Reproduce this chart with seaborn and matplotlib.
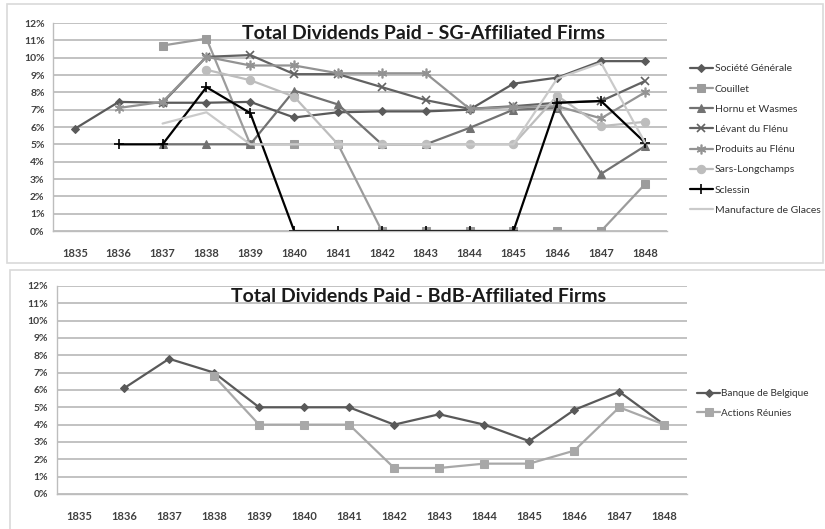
import numpy as np
import pandas as pd
import matplotlib
matplotlib.use('Agg')
import matplotlib.pyplot as plt
import seaborn as sns
from matplotlib.patches import Rectangle
from matplotlib.ticker import FixedLocator, FuncFormatter

nan = np.nan

# Anos (categorias)
years = [str(y) for y in range(1835, 1849)]

# Dividendos (%) - SG
societe = [5.9, 7.45, 7.4, 7.4, 7.45, 6.55, 6.85, 6.9, 6.9, 7.0, 8.5, 8.85, 9.8, 9.8]
couillet = [nan, nan, 10.7, 11.1, 5.0, 5.0, 5.0, 0, 0, 0, 0, 0, 0, 2.7]
hornu = [nan, nan, 5.0, 5.0, 5.0, 8.1, 7.3, 5.0, 5.0, 5.95, 7.0, 7.1, 3.3, 4.9]
levant = [nan, nan, 7.4, 10.05, 10.15, 9.05, 9.05, 8.3, 7.55, 7.05, 7.2, 7.4, 7.5, 8.65]
produits = [nan, 7.1, 7.45, 10.05, 9.55, 9.55, 9.1, 9.1, 9.1, 7.05, 7.15, 7.2, 6.5, 8.0]
sars = [nan, nan, nan, 9.3, 8.7, 7.75, 5.0, 5.0, 5.0, 5.0, 5.0, 7.8, 6.05, 6.3]
sclessin = [nan, 5.0, 5.0, 8.3, 6.8, 0, 0, 0, 0, 0, 0, 7.4, 7.5, 5.1]
manufacture = [nan, nan, 6.2, 6.85, 5.0, 5.0, 5.0, 5.0, 5.0, 5.0, 5.0, 8.8, 9.7, 5.1]

# Dividendos (%) - BdB
bdb = [nan, 6.1, 7.8, 7.0, 5.0, 5.0, 5.0, 4.0, 4.6, 4.0, 3.05, 4.85, 5.9, 4.0]
actions = [nan, nan, nan, 6.8, 4.0, 4.0, 4.0, 1.5, 1.5, 1.75, 1.75, 2.5, 5.0, 4.0]

sns.set_style('white')
plt.rcParams['font.family'] = ['Lato', 'DejaVu Sans']

asterisk = (6, 2, 0)

sg_series = [
    ('Société Générale', societe, '#5a5a5a', 'D', 4),
    ('Couillet', couillet, '#9c9c9c', 's', 6),
    ('Hornu et Wasmes', hornu, '#727272', '^', 5.5),
    ('Lévant du Flénu', levant, '#626262', 'x', 6),
    ('Produits au Flénu', produits, '#939393', asterisk, 7),
    ('Sars-Longchamps', sars, '#bdbdbd', 'o', 6),
    ('Sclessin', sclessin, '#000000', '+', 7),
    ('Manufacture de Glaces', manufacture, '#cacaca', None, 0),
]
bdb_series = [
    ('Banque de Belgique', bdb, '#595959', 'D', 4),
    ('Actions Réunies', actions, '#a8a8a8', 's', 6),
]

fig = plt.figure(figsize=(8.25, 5.29), dpi=100)

# Molduras dos dois paineis
fig.add_artist(Rectangle((0.008, 0.503), 0.99, 0.49, transform=fig.transFigure,
                         fill=False, edgecolor='#d9d9d9', lw=1.2))
fig.add_artist(Rectangle((0.012, -0.01), 0.99, 0.5, transform=fig.transFigure,
                         fill=False, edgecolor='#d9d9d9', lw=1.2))

ax1 = fig.add_axes([0.0642, 0.5633, 0.7442, 0.3932])
ax2 = fig.add_axes([0.0685, 0.0662, 0.7640, 0.3932])


def draw(ax, series, title, title_x, leg_y, leg_x, leg_fs):
    x = np.arange(len(years))
    for name, vals, col, mk, ms in series:
        df = pd.DataFrame({'x': x, 'y': vals}).dropna()
        kw = dict(marker=mk, markersize=ms, markeredgecolor=col, markerfacecolor=col)
        if mk in ('x', '+', asterisk):
            kw['markeredgewidth'] = 1.2
        if mk is None:
            kw = {}
        sns.lineplot(data=df, x='x', y='y', ax=ax, color=col, lw=1.6,
                     label=name, **kw)
    ax.set_xlim(-0.5, len(years) - 0.5)
    ax.set_ylim(0, 12)
    ax.set_yticks(range(0, 13))
    ax.yaxis.set_major_formatter(FuncFormatter(lambda v, p: f'{int(v)}%'))
    ax.set_xticks(x)
    ax.set_xticklabels(years)
    ax.xaxis.set_minor_locator(FixedLocator(np.arange(-0.5, len(years), 1.0)))
    ax.tick_params(axis='x', which='major', length=0, pad=12, labelsize=8)
    ax.tick_params(axis='x', which='minor', length=4, color='#bdbdbd', direction='out')
    ax.tick_params(axis='y', length=3, color='#bdbdbd', labelsize=7.5, pad=3)
    for lab in ax.get_xticklabels() + ax.get_yticklabels():
        lab.set_fontweight('bold')
        lab.set_color('#404040')
    ax.grid(axis='y', color='#bdbdbd', lw=1.3)
    ax.set_axisbelow(True)
    for s in ('top', 'right'):
        ax.spines[s].set_visible(False)
    for s in ('left', 'bottom'):
        ax.spines[s].set_color('#bdbdbd')
        ax.spines[s].set_linewidth(1.0)
    ax.set_xlabel('')
    ax.set_ylabel('')
    ax.text(title_x, 0.95, title, transform=ax.transAxes, ha='center', va='center',
            fontsize=14, fontweight='bold', color='#1a1a1a')
    leg = ax.legend(loc='center left', bbox_to_anchor=(leg_x, leg_y), frameon=False,
                    fontsize=leg_fs, handlelength=2.3, handletextpad=0.1, labelspacing=1.05,
                    borderaxespad=0)
    for t in leg.get_texts():
        t.set_color('#333333')


draw(ax1, sg_series, 'Total Dividends Paid - SG-Affiliated Firms', 0.603, 0.44, 1.03, 7.5)
draw(ax2, bdb_series, 'Total Dividends Paid - BdB-Affiliated Firms', 0.575, 0.435, 1.01, 7.2)

fig.savefig('out.png', dpi=100)
